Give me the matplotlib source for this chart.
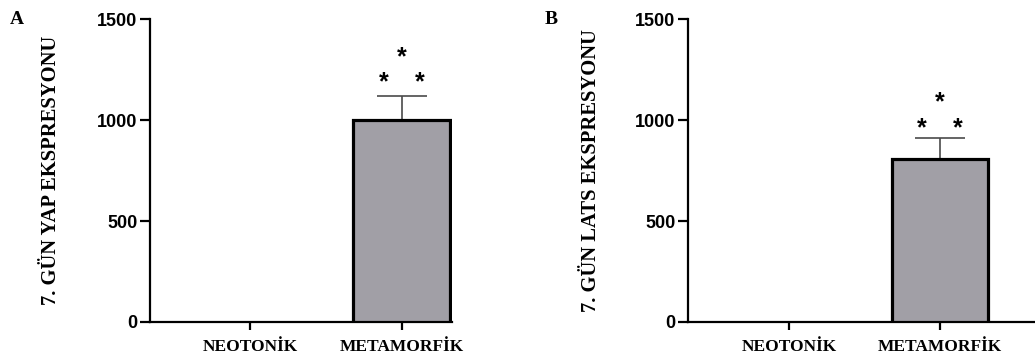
import matplotlib
matplotlib.use("Agg")
import matplotlib.pyplot as plt
import numpy as np

categories = ["NEOTONİK", "METAMORFİK"]
yap_values = [1.0, 1000.0]
yap_errors = [0.0, 120.0]
lats_values = [1.0, 807.0]
lats_errors = [0.0, 104.0]
yap_star_levels = [1188, 1312]    # lower pair, top star
lats_star_levels = [960, 1089]
yticks = [0, 500, 1000, 1500]
panel_letters = ["A", "B"]
ylabels = ["7. GÜN YAP EKSPRESYONU", "7. GÜN LATS EKSPRESYONU"]

W, H = 1035, 360
fig = plt.figure(figsize=(W / 100, H / 100), dpi=100)

bar_color = "#a19fa6"
err_color = "#4a4a4a"

def px_axes(left, right, top, bottom):
    return [left / W, 1 - bottom / H, (right - left) / W, (bottom - top) / H]

panels = [
    dict(rect=px_axes(150, 452, 19, 322), xlim=(-0.658, 1.33), vals=yap_values,
         errs=yap_errors, stars=yap_star_levels, label=ylabels[0],
         letter=panel_letters[0], letter_xy=(10, 19), label_x=(51 - 150) / 302),
    dict(rect=px_axes(688, 1035, 19, 322), xlim=(-0.669, 1.63), vals=lats_values,
         errs=lats_errors, stars=lats_star_levels, label=ylabels[1],
         letter=panel_letters[1], letter_xy=(545, 19), label_x=(591 - 688) / 347),
]

for p in panels:
    ax = fig.add_axes(p["rect"])
    x = np.arange(len(categories))
    lws = [2.3 if v > 20 else 0.0 for v in p["vals"]]
    ax.bar(x, p["vals"], width=0.638, color=bar_color, edgecolor="black",
           linewidth=lws, zorder=3)
    ax.errorbar(x, p["vals"], yerr=[[0] * len(x), p["errs"]], fmt="none",
                ecolor=err_color, elinewidth=1.2, capsize=18, capthick=1.2, zorder=2)
    ax.set_xlim(*p["xlim"])
    ax.set_ylim(0, 1500)
    ax.set_yticks(yticks)
    ax.set_yticklabels([str(t) for t in yticks], fontfamily="Liberation Sans",
                       fontweight="bold", fontsize=13)
    ax.set_xticks(x)
    ax.set_xticklabels(categories, fontfamily="Liberation Serif",
                       fontweight="bold", fontsize=12.5)
    for s in ["top", "right"]:
        ax.spines[s].set_visible(False)
    for s in ["left", "bottom"]:
        ax.spines[s].set_linewidth(1.6)
    ax.tick_params(axis="y", length=7, width=1.6, pad=2)
    ax.tick_params(axis="x", length=6, width=1.6, pad=6)
    ax.text(p["label_x"], 0.5, p["label"], transform=ax.transAxes, rotation=90,
            ha="center", va="center", fontfamily="Liberation Serif",
            fontweight="bold", fontsize=14.9)
    # significance stars
    lower, upper = p["stars"]
    for dx, yy in [(-0.118, lower), (0.118, lower), (0.0, upper)]:
        ax.text(1 + dx, yy, "*", ha="center", va="center",
                fontfamily="Liberation Sans", fontweight="bold", fontsize=18,
                zorder=4)
    fig.text(p["letter_xy"][0] / W, 1 - p["letter_xy"][1] / H, p["letter"],
             ha="left", va="center", fontfamily="Liberation Serif",
             fontweight="bold", fontsize=14)

fig.savefig("out.png", dpi=100)
